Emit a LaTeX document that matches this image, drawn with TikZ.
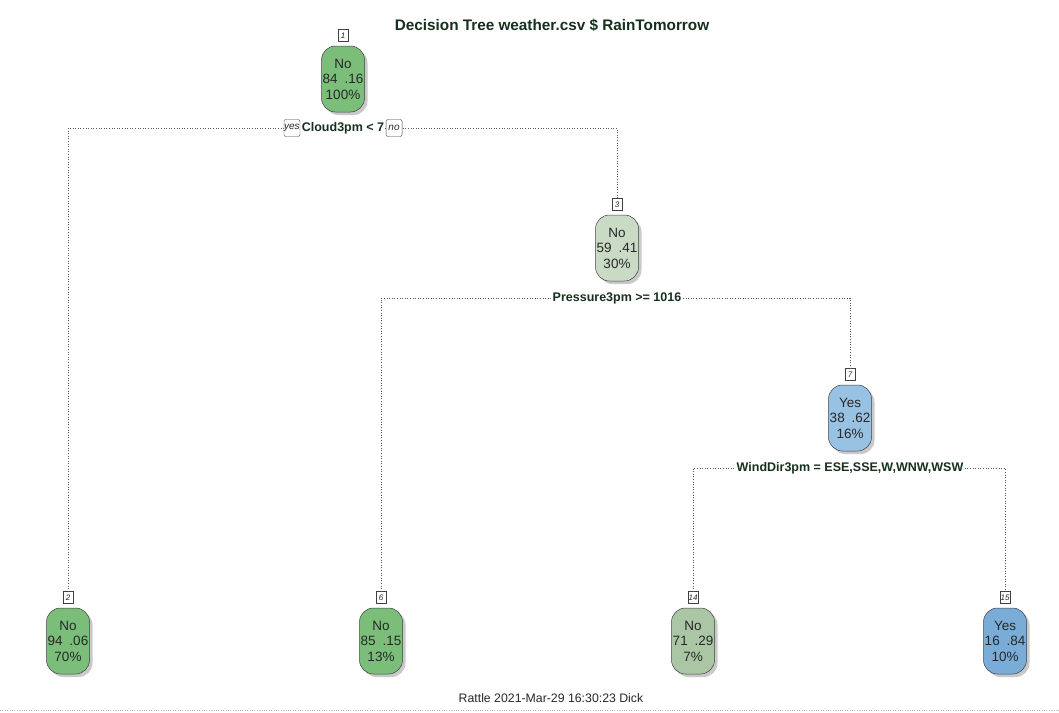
\documentclass[tikz,border=0pt]{standalone}
\usepackage{fontspec}
\setmainfont{Liberation Sans}
\usetikzlibrary{shadows}
\definecolor{gA}{RGB}{122,190,122}
\definecolor{gB}{RGB}{201,219,197}
\definecolor{gC}{RGB}{170,198,165}
\definecolor{bA}{RGB}{152,194,228}
\definecolor{bB}{RGB}{122,172,216}
\definecolor{ttl}{RGB}{22,48,30}
\definecolor{txt}{RGB}{40,40,40}
\tikzset{
  treenode/.style={draw=black!75, line width=0.5pt, rounded corners=14pt,
    minimum width=43pt, minimum height=66pt, inner sep=0pt, align=center,
    text=txt, font=\fontsize{13.5}{15.5}\selectfont,
    drop shadow={shadow xshift=3pt, shadow yshift=-3pt, fill=black!35, opacity=0.6}},
  numtag/.style={draw=black!75, fill=white, line width=0.4pt, inner sep=0pt,
    minimum width=10pt, minimum height=12pt, font=\itshape\fontsize{8}{9}\selectfont, text=txt},
  splitlab/.style={fill=white, inner sep=1pt, font=\bfseries\fontsize{12.5}{14}\selectfont, text=ttl},
  yn/.style={draw=black!75, fill=white, rounded corners=2pt, inner sep=0pt,
    minimum width=16pt, minimum height=17pt, font=\itshape\fontsize{10}{11}\selectfont, text=txt},
  conn/.style={dotted, draw=black!65, line width=0.6pt}
}
\begin{document}
\begin{tikzpicture}[x=1pt,y=-1pt]
\useasboundingbox (0,0) rectangle (1059,712);
\fill[white] (0,0) rectangle (1059,712);

% title and footer
\node[font=\bfseries\fontsize{15.3}{17}\selectfont, text=ttl] (title) at (552,25) {Decision Tree weather.csv \$ RainTomorrow};
\node[font=\fontsize{12.3}{14}\selectfont, text=txt] (foot) at (551,698) {Rattle 2021-Mar-29 16:30:23 Dick};
\draw[dotted, black!25] (0,710) -- (1059,710);

% split junction coordinates
\coordinate (s1L) at (68,128);
\coordinate (s1R) at (617,128);
\coordinate (s3L) at (381,298);
\coordinate (s3R) at (850,298);
\coordinate (s7L) at (693,468);
\coordinate (s7R) at (1005,468);

% nodes
\node[treenode, fill=gA] (n1) at (343,79) {No\\84\hspace{0.5em}.16\\100\%};
\node[treenode, fill=gB] (n3) at (617,248) {No\\59\hspace{0.5em}.41\\30\%};
\node[treenode, fill=bA] (n7) at (850,418) {Yes\\38\hspace{0.5em}.62\\16\%};
\node[treenode, fill=gA] (n2) at (68,641) {No\\94\hspace{0.5em}.06\\70\%};
\node[treenode, fill=gA] (n6) at (381,641) {No\\85\hspace{0.5em}.15\\13\%};
\node[treenode, fill=gC] (n14) at (693,641) {No\\71\hspace{0.5em}.29\\7\%};
\node[treenode, fill=bB] (n15) at (1005,641) {Yes\\16\hspace{0.5em}.84\\10\%};

% number tags
\foreach \n/\t in {n1/1,n3/3,n7/7,n2/2,n6/6,n14/14,n15/15}{
  \node[numtag, anchor=south] (t\n) at ([yshift=4pt]\n.north) {\t};
}

% connectors
\draw[conn] (tn2.north) -- (s1L) -- (s1R) -- (tn3.north);
\draw[conn] (tn6.north) -- (s3L) -- (s3R) -- (tn7.north);
\draw[conn] (tn14.north) -- (s7L) -- (s7R) -- (tn15.north);

% split labels
\node[splitlab] (l1) at (343,128) {Cloud3pm < 7};
\node[yn, anchor=east] (yes) at ([xshift=-0.5pt]l1.west) {yes};
\node[yn, anchor=west] (no) at ([xshift=0.5pt]l1.east) {no};
\node[splitlab] (l3) at (617,298) {Pressure3pm >= 1016};
\node[splitlab] (l7) at (850,468) {WindDir3pm = ESE,SSE,W,WNW,WSW};
\end{tikzpicture}
\end{document}
